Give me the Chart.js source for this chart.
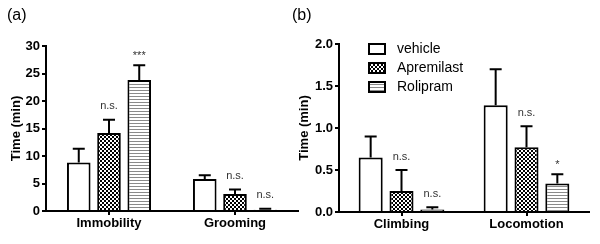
<!DOCTYPE html>
<html>
<head>
<meta charset="utf-8">
<script src="https://cdn.jsdelivr.net/npm/chart.js@4.4.0/dist/chart.umd.min.js"></script>
<style>
  body { margin: 0; background: #fff; }
  #wrap { position: relative; width: 600px; height: 244px; }
  canvas { position: absolute; top: 0; }
  #ca { left: 0; }
  #cb { left: 285px; }
</style>
</head>
<body>
<div id="wrap">
  <canvas id="ca" width="300" height="244"></canvas>
  <canvas id="cb" width="315" height="244"></canvas>
</div>
<script>
// ---- data ----
var groups = ["vehicle", "Apremilast", "Rolipram"];

var catsA = ["Immobility", "Grooming"];
var meanA = [[8.8, 5.8], [14.2, 3.1], [23.8, 0.25]];
var semA  = [[2.5, 0.7], [2.4, 0.8], [2.7, 0.15]];
var sigA  = [["", ""], ["n.s.", "n.s."], ["***", "n.s."]];
var ticksA = [0, 5, 10, 15, 20, 25, 30];

var catsB = ["Climbing", "Locomotion"];
var meanB = [[0.65, 1.27], [0.25, 0.77], [0.03, 0.34]];
var semB  = [[0.25, 0.43], [0.25, 0.25], [0.026, 0.11]];
var sigB  = [["", ""], ["n.s.", "n.s."], ["n.s.", "*"]];
var ticksB = [0, 0.5, 1.0, 1.5, 2.0];

// ---- fill patterns ----
function checker() {
  var c = document.createElement('canvas'); c.width = 4; c.height = 4;
  var g = c.getContext('2d');
  g.fillStyle = '#fff'; g.fillRect(0, 0, 4, 4);
  g.fillStyle = '#000'; g.fillRect(0, 0, 2, 2); g.fillRect(2, 2, 2, 2);
  return g.createPattern(c, 'repeat');
}
function stripes() {
  var c = document.createElement('canvas'); c.width = 4; c.height = 3;
  var g = c.getContext('2d');
  g.fillStyle = '#fff'; g.fillRect(0, 0, 4, 3);
  g.fillStyle = '#8a8a8a'; g.fillRect(0, 0, 4, 1);
  return g.createPattern(c, 'repeat');
}
var fills = ['#ffffff', checker(), stripes()];

var FONT = 'Liberation Sans, Arial, sans-serif';

// error bars + significance marks
var errPlugin = {
  id: 'errs',
  afterDatasetsDraw: function (chart, args, opts) {
    var ctx = chart.ctx, ys = chart.scales.y;
    ctx.save();
    chart.data.datasets.forEach(function (ds, i) {
      var meta = chart.getDatasetMeta(i);
      meta.data.forEach(function (bar, j) {
        var top = ys.getPixelForValue(ds.data[j] + opts.sem[i][j]);
        ctx.strokeStyle = '#000'; ctx.lineWidth = 2;
        ctx.beginPath();
        ctx.moveTo(bar.x, bar.y); ctx.lineTo(bar.x, top);
        ctx.moveTo(bar.x - 6, top); ctx.lineTo(bar.x + 6, top);
        ctx.stroke();
        var s = opts.sig[i][j];
        if (s) {
          ctx.fillStyle = '#333';
          ctx.font = '11px ' + FONT;
          ctx.textAlign = 'center';
          ctx.textBaseline = 'bottom';
          ctx.fillText(s, bar.x, top - (s.charAt(0) == '*' ? 4 : 8));
        }
      });
    });
    ctx.restore();
  }
};

// panel letter + optional legend
var decoPlugin = {
  id: 'deco',
  afterDraw: function (chart, args, opts) {
    var ctx = chart.ctx;
    ctx.save();
    ctx.fillStyle = '#000';
    ctx.font = '16px ' + FONT;
    ctx.textAlign = 'left'; ctx.textBaseline = 'middle';
    ctx.fillText(opts.letter, opts.lx, 16);
    if (opts.legend) {
      groups.forEach(function (name, i) {
        var y = 49 + i * 19;
        ctx.fillStyle = fills[i];
        ctx.fillRect(84, y - 5, 16, 10);
        ctx.strokeStyle = '#000'; ctx.lineWidth = 2;
        ctx.strokeRect(84, y - 5, 16, 10);
        ctx.fillStyle = '#000';
        ctx.font = '14px ' + FONT;
        ctx.fillText(name, 112, y);
      });
    }
    ctx.restore();
  }
};

function makeChart(id, cats, mean, sem, sig, ticks, opt) {
  return new Chart(document.getElementById(id), {
    type: 'bar',
    data: {
      labels: cats,
      datasets: groups.map(function (g, i) {
        return {
          label: g,
          data: mean[i],
          backgroundColor: fills[i],
          borderColor: '#000',
          borderWidth: 2,
          borderSkipped: 'bottom',
          categoryPercentage: opt.catPct,
          barPercentage: 0.78
        };
      })
    },
    options: {
      responsive: false,
      animation: false,
      layout: { padding: { top: opt.top, right: opt.right, left: 0, bottom: 0 } },
      plugins: {
        legend: { display: false },
        tooltip: { enabled: false },
        errs: { sem: sem, sig: sig },
        deco: opt.deco
      },
      scales: {
        x: {
          offset: true,
          border: { color: '#000', width: 2 },
          grid: { offset: false, drawOnChartArea: false, color: '#000', lineWidth: 2, tickLength: 4 },
          ticks: { color: '#000', font: { family: FONT, size: 13, weight: 'bold' }, padding: 1 },
          afterFit: function (s) { s.height = opt.xh; }
        },
        y: {
          min: ticks[0],
          max: ticks[ticks.length - 1],
          afterBuildTicks: function (s) { s.ticks = ticks.map(function (v) { return { value: v }; }); },
          border: { color: '#000', width: 2 },
          grid: { drawOnChartArea: false, color: '#000', lineWidth: 2, tickLength: 4 },
          ticks: {
            color: '#000', padding: 2,
            font: { family: FONT, size: 13, weight: 'bold' },
            callback: function (v) { return opt.dec ? v.toFixed(1) : v; }
          },
          title: { display: true, text: 'Time (min)', color: '#000',
                   padding: { top: opt.tpad, bottom: 0 },
                   font: { family: FONT, size: 13, weight: 'bold' } },
          afterFit: function (s) { s.width = opt.yw; }
        }
      }
    },
    plugins: [errPlugin, decoPlugin]
  });
}

makeChart('ca', catsA, meanA, semA, sigA, ticksA,
  { top: 46, right: 2, xh: 33, yw: 46, catPct: 0.72, dec: false, tpad: 9,
    deco: { letter: '(a)', lx: 7, legend: false } });
makeChart('cb', catsB, meanB, semB, sigB, ticksB,
  { top: 44, right: 11, xh: 32, yw: 54, catPct: 0.74, dec: true, tpad: 12,
    deco: { letter: '(b)', lx: 7, legend: true } });
</script>
</body>
</html>
